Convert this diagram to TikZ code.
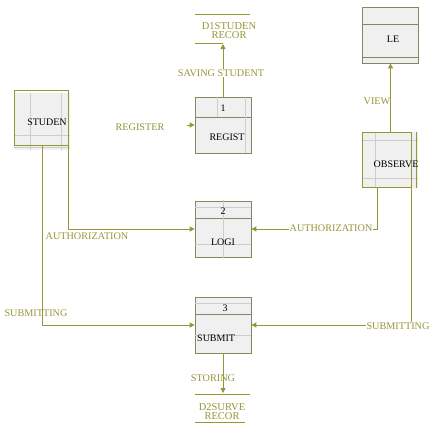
\documentclass[tikz,border=0pt]{standalone}
\usepackage{fontspec}
\setmainfont{Liberation Serif}
\usetikzlibrary{arrows.meta}
\definecolor{oliveline}{RGB}{150,150,50}
\definecolor{olivetext}{RGB}{150,150,60}
\definecolor{boxedge}{RGB}{135,135,95}
\definecolor{boxfill}{RGB}{240,240,240}
\definecolor{innerln}{RGB}{205,205,205}
\begin{document}
\begin{tikzpicture}[x=1pt,y=-1pt,
 flow/.style={draw=oliveline, line width=0.9pt, -{Triangle[length=5pt,width=5pt]}},
 plain/.style={draw=oliveline, line width=0.9pt},
 lbl/.style={text=olivetext, font=\fontsize{10.2}{10}\selectfont, inner sep=1pt},
 procbox/.style={draw=boxedge, fill=boxfill, line width=0.8pt, minimum width=56pt, minimum height=56pt, inner sep=0pt},
 entbox/.style={draw=oliveline, line width=0.9pt, minimum width=54pt, minimum height=55pt, inner sep=0pt},
 boxtext/.style={font=\fontsize{10}{10}\selectfont, inner sep=0pt},
 storetext/.style={text=olivetext, font=\fontsize{10.5}{9}\selectfont, align=center, inner sep=0pt},
 inner/.style={draw=innerln, line width=0.6pt},
 sep/.style={draw=boxedge, line width=0.6pt},
]
\useasboundingbox[fill=white] (0,0) rectangle (435,426);

% ---------- STUDEN external entity ----------
\fill[boxfill] (14,93) rectangle (70,150);
\draw[inner] (30,93) -- (30,150) (61,93) -- (61,150) (14,135) -- (70,135) (14,147) -- (70,147);
\node[entbox] (studen) at (41,117.5) {};
\node[boxtext] (studentxt) at (47,122) {STUDEN};

% ---------- LE ----------
\node[procbox, draw=boxedge] (le) at (390.5,35) {};
\draw[sep] (363,24) -- (418,24) (363,57) -- (418,57);
\node[boxtext] (letxt) at (393,39) {LE};

% ---------- OBSERVE ----------
\fill[boxfill] (362,132) rectangle (418,188);
\draw[inner] (375,132) -- (375,188) (362,140) -- (418,140) (362,178) -- (418,178);
\node[entbox, minimum width=49pt, minimum height=55pt] (observe) at (386.5,159.5) {};
\draw[plain] (416,132) -- (416,188);
\node[boxtext] (obstxt) at (396,164) {OBSERVE};

% ---------- REGIST ----------
\node[procbox] (p1) at (223,125) {};
\draw[sep] (195,117) -- (251,117);
\draw[inner] (217,97) -- (217,117) (245,97) -- (245,153);
\node[boxtext] (n1) at (223,108) {1};
\node[boxtext] (t1) at (227,137) {REGIST};

% ---------- LOGI ----------
\node[procbox] (p2) at (223,229) {};
\draw[sep] (195,218) -- (251,218);
\draw[inner] (195,207) -- (251,207) (195,244) -- (251,244) (223,200) -- (223,258);
\node[boxtext] (n2) at (223,211) {2};
\node[boxtext] (t2) at (223,242) {LOGI};

% ---------- SUBMIT ----------
\node[procbox] (p3) at (223,325) {};
\draw[sep] (195,314) -- (251,314);
\draw[inner] (195,303) -- (251,303) (195,335) -- (251,335);
\node[boxtext] (n3) at (225,308) {3};
\node[boxtext, anchor=west] (t3) at (197,338) {SUBMIT};

% ---------- data stores ----------
\node[storetext] (d1) at (229,31) {D1STUDEN\\RECOR};
\draw[plain] (195,14) -- (250,14) (195,43) -- (223,43);
\coordinate (d1in) at (223,44);

\node[storetext] (d2) at (222,412) {D2SURVE\\RECOR};
\draw[plain] (195,394) -- (250,394) (195,422) -- (245,422);
\coordinate (d2in) at (223,393);

% ---------- flows ----------
\coordinate (regstart) at (187,125);
\draw[flow] (regstart) -- (p1.west);
\node[lbl] (lreg) at (140,127) {REGISTER};

\draw[flow] (p1.north) -- (d1in);
\node[lbl, fill=white] (lsave) at (221,73) {SAVING STUDENT};

\draw[flow] (observe.north -| le.south) -- (le.south);
\node[lbl] (lview) at (377,101) {VIEW};

\draw[flow] (studen.south east) |- (p2.west);
\node[lbl] (lauth1) at (87,236) {AUTHORIZATION};

\coordinate (obsA) at (377,188);
\draw[flow] (obsA) |- (p2.east);
\node[lbl, fill=white] (lauth2) at (331,228) {AUTHORIZATION};

\draw[flow] (studen.south -| 42,0) |- (p3.west);
\node[lbl] (lsub1) at (36,313) {SUBMITTING};

\coordinate (obsB) at (411,188);
\draw[flow] (obsB) |- (p3.east);
\node[lbl, fill=white] (lsub2) at (398,326) {SUBMITTING};

\draw[flow] (p3.south) -- (d2in);
\node[lbl] (lstore) at (213,378) {STORING};
\end{tikzpicture}
\end{document}
